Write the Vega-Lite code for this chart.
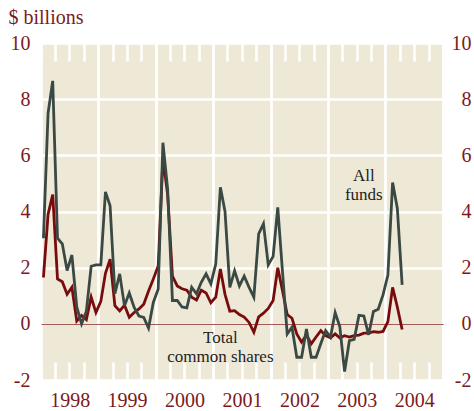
{
  "$schema": "https://vega.github.io/schema/vega-lite/v6.json",
  "width": 402,
  "height": 337,
  "autosize": {"type": "none"},
  "padding": {"left": 41, "top": 43, "right": 31, "bottom": 31},
  "background": "white",
  "config": {
    "view": {"fill": "#eee9d7", "stroke": null},
    "font": "Liberation Serif"
  },
  "datasets": {
    "flows": [
      {"d": "1998-01", "all": 3.05, "com": 1.65},
      {"d": "1998-02", "all": 7.5, "com": 3.9},
      {"d": "1998-03", "all": 8.65, "com": 4.6},
      {"d": "1998-04", "all": 3.05, "com": 1.6},
      {"d": "1998-05", "all": 2.85, "com": 1.5},
      {"d": "1998-06", "all": 1.9, "com": 1.05},
      {"d": "1998-07", "all": 2.45, "com": 1.3},
      {"d": "1998-08", "all": 0.6, "com": 0.1},
      {"d": "1998-09", "all": 0.0, "com": 0.3},
      {"d": "1998-10", "all": 0.45, "com": 0.15},
      {"d": "1998-11", "all": 2.05, "com": 0.95},
      {"d": "1998-12", "all": 2.1, "com": 0.4},
      {"d": "1999-01", "all": 2.1, "com": 0.8},
      {"d": "1999-02", "all": 4.7, "com": 1.8},
      {"d": "1999-03", "all": 4.2, "com": 2.3},
      {"d": "1999-04", "all": 1.07, "com": 0.65},
      {"d": "1999-05", "all": 1.78, "com": 0.46},
      {"d": "1999-06", "all": 0.64, "com": 0.66},
      {"d": "1999-07", "all": 1.1, "com": 0.23},
      {"d": "1999-08", "all": 0.58, "com": 0.4},
      {"d": "1999-09", "all": 0.28, "com": 0.53},
      {"d": "1999-10", "all": 0.23, "com": 0.7},
      {"d": "1999-11", "all": -0.15, "com": 1.17},
      {"d": "1999-12", "all": 0.76, "com": 1.6},
      {"d": "2000-01", "all": 1.24, "com": 2.06},
      {"d": "2000-02", "all": 6.45, "com": 5.9},
      {"d": "2000-03", "all": 4.8, "com": 4.6},
      {"d": "2000-04", "all": 0.83, "com": 1.7},
      {"d": "2000-05", "all": 0.83, "com": 1.35},
      {"d": "2000-06", "all": 0.6, "com": 1.25},
      {"d": "2000-07", "all": 0.57, "com": 1.2},
      {"d": "2000-08", "all": 1.3, "com": 0.95},
      {"d": "2000-09", "all": 1.07, "com": 0.85},
      {"d": "2000-10", "all": 1.48, "com": 1.2},
      {"d": "2000-11", "all": 1.78, "com": 1.1},
      {"d": "2000-12", "all": 1.42, "com": 0.75},
      {"d": "2001-01", "all": 2.13, "com": 0.95},
      {"d": "2001-02", "all": 4.86, "com": 1.95},
      {"d": "2001-03", "all": 4.0, "com": 1.05},
      {"d": "2001-04", "all": 1.3, "com": 0.45},
      {"d": "2001-05", "all": 1.89, "com": 0.47},
      {"d": "2001-06", "all": 1.35, "com": 0.33},
      {"d": "2001-07", "all": 1.7, "com": 0.24},
      {"d": "2001-08", "all": 1.3, "com": 0.05},
      {"d": "2001-09", "all": 0.95, "com": -0.3},
      {"d": "2001-10", "all": 3.2, "com": 0.25},
      {"d": "2001-11", "all": 3.56, "com": 0.38},
      {"d": "2001-12", "all": 2.1, "com": 0.55},
      {"d": "2002-01", "all": 2.4, "com": 0.83},
      {"d": "2002-02", "all": 4.15, "com": 2.0},
      {"d": "2002-03", "all": 1.9, "com": 1.2},
      {"d": "2002-04", "all": -0.36, "com": 0.33},
      {"d": "2002-05", "all": -0.12, "com": 0.2},
      {"d": "2002-06", "all": -1.19, "com": -0.36},
      {"d": "2002-07", "all": -1.19, "com": -0.65},
      {"d": "2002-08", "all": -0.18, "com": -0.4},
      {"d": "2002-09", "all": -1.19, "com": -0.71},
      {"d": "2002-10", "all": -1.19, "com": -0.47},
      {"d": "2002-11", "all": -0.7, "com": -0.24},
      {"d": "2002-12", "all": -0.24, "com": -0.42},
      {"d": "2003-01", "all": -0.47, "com": -0.5},
      {"d": "2003-02", "all": 0.4, "com": -0.36},
      {"d": "2003-03", "all": -0.1, "com": -0.5},
      {"d": "2003-04", "all": -1.7, "com": -0.42},
      {"d": "2003-05", "all": -0.6, "com": -0.47},
      {"d": "2003-06", "all": -0.55, "com": -0.42},
      {"d": "2003-07", "all": 0.3, "com": -0.4},
      {"d": "2003-08", "all": 0.28, "com": -0.33},
      {"d": "2003-09", "all": -0.39, "com": -0.33},
      {"d": "2003-10", "all": 0.44, "com": -0.28},
      {"d": "2003-11", "all": 0.52, "com": -0.3},
      {"d": "2003-12", "all": 1.03, "com": -0.27},
      {"d": "2004-01", "all": 1.74, "com": 0.08},
      {"d": "2004-02", "all": 5.03, "com": 1.3},
      {"d": "2004-03", "all": 4.12, "com": 0.6},
      {"d": "2004-04", "all": 1.39, "com": -0.2}
    ],
    "notes": [
      {"d": "2003-08", "v": 5.26, "t": ["All", "funds"]},
      {"d": "2001-02", "v": -0.52, "t": ["Total", "common shares"]}
    ]
  },
  "resolve": {"axis": {"x": "independent", "y": "independent"}},
  "layer": [
    {
      "data": {"name": "flows"},
      "mark": {"type": "line", "color": "#780c0c", "strokeWidth": 2.8, "strokeJoin": "miter"},
      "encoding": {
        "x": {
          "field": "d", "type": "temporal", "timeUnit": "utcyearmonth", "bandPosition": 0.5,
          "scale": {"type": "utc", "domain": [{"year": 1998, "month": 1, "date": 1, "utc": true}, {"year": 2005, "month": 1, "date": 1, "utc": true}]},
          "axis": {
            "orient": "bottom", "title": null, "domain": false,
            "tickCount": {"interval": "month", "step": 3},
            "ticks": true, "tickSize": -18, "tickColor": "white", "tickWidth": 2.5,
            "grid": true,
            "gridColor": {"condition": {"test": "utcmonth(datum.value) == 0", "value": "white"}, "value": "transparent"},
            "gridWidth": 2.7,
            "labelExpr": "utcmonth(datum.value) == 0 && utcyear(datum.value) < 2005 ? utcFormat(datum.value, '%Y') : ''",
            "labelOffset": 28.7, "labelPadding": 28, "labelFontSize": 20, "labelColor": "#7b1a1c",
            "labelFont": "Liberation Serif", "labelFlush": false, "labelOverlap": false
          }
        },
        "y": {
          "field": "com", "type": "quantitative",
          "scale": {"domain": [-2, 10], "nice": false, "zero": false},
          "axis": {
            "orient": "left", "values": [-2, 0, 2, 4, 6, 8, 10],
            "labelExpr": "'' + datum.value",
            "title": "$ billions", "titleAngle": 0, "titleAlign": "left", "titleBaseline": "alphabetic",
            "titleX": -33, "titleY": -20, "titleFontSize": 20, "titleFontWeight": "normal",
            "titleColor": "#7b1a1c", "titleFont": "Liberation Serif",
            "domain": false, "ticks": false, "labelPadding": 11,
            "labelFontSize": 20, "labelColor": "#7b1a1c", "labelFont": "Liberation Serif",
            "grid": true,
            "gridColor": {"condition": {"test": "datum.value == 0", "value": "#a45a57"}, "value": "white"},
            "gridWidth": {"condition": {"test": "datum.value == 0", "value": 1.2}, "value": 2.7}
          }
        }
      }
    },
    {
      "data": {"name": "flows"},
      "mark": {"type": "line", "color": "#3b4945", "strokeWidth": 2.8, "strokeJoin": "miter"},
      "encoding": {
        "x": {
          "field": "d", "type": "temporal", "timeUnit": "utcyearmonth", "bandPosition": 0.5,
          "axis": {
            "orient": "top", "title": null, "domain": false, "labels": false, "grid": false,
            "tickCount": {"interval": "month", "step": 3},
            "ticks": true, "tickSize": -18, "tickColor": "white", "tickWidth": 2.5
          }
        },
        "y": {
          "field": "all", "type": "quantitative",
          "axis": {
            "orient": "right", "values": [-2, 0, 2, 4, 6, 8, 10], "title": null,
            "labelExpr": "'' + datum.value",
            "domain": false, "ticks": false, "grid": false,
            "labelAlign": "right", "labelPadding": 28,
            "labelFontSize": 20, "labelColor": "#7b1a1c", "labelFont": "Liberation Serif"
          }
        }
      }
    },
    {
      "data": {"name": "notes"},
      "mark": {"type": "text", "font": "Liberation Serif", "fontSize": 17, "color": "#1e1e1e", "lineHeight": 19, "baseline": "middle", "align": "center"},
      "encoding": {
        "x": {"field": "d", "type": "temporal", "timeUnit": "utcyearmonth", "bandPosition": 0.5, "axis": null},
        "y": {"field": "v", "type": "quantitative", "axis": null},
        "text": {"field": "t"}
      }
    }
  ]
}
